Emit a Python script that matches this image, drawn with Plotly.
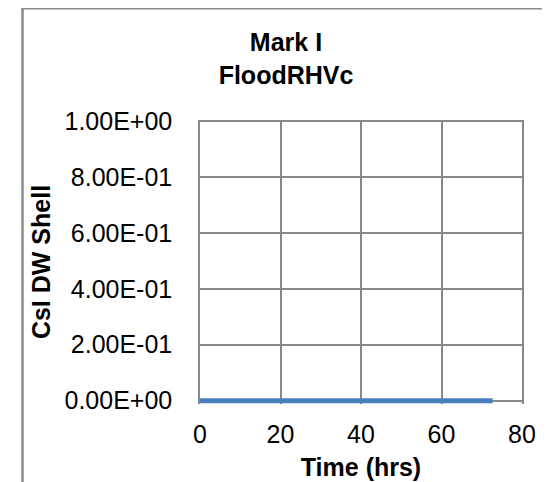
import plotly.graph_objects as go

# ---- data ----
time_hrs = [0, 12, 24, 36, 48, 60, 72.7]
csi_dw_shell = [0, 0, 0, 0, 0, 0, 0]
x_ticks = [0, 20, 40, 60, 80]
y_ticks = [0.0, 0.2, 0.4, 0.6, 0.8, 1.0]
y_ticktext = [f"{v:.2E}" for v in y_ticks]

title_lines = ["Mark I", "FloodRHVc"]
x_title = "Time (hrs)"
y_title = "CsI DW Shell"

FONT = "Liberation Sans, Arial, sans-serif"
GRID = "#898989"

# page body adds an 8px margin, so the figure is 8px smaller each way
W, H = 542, 474
ML, MR, MT, MB = 192, 28, 112, 78

fig = go.Figure()
fig.add_trace(go.Scatter(
    x=time_hrs, y=csi_dw_shell, mode="lines",
    line=dict(color="#4a7ebb", width=5),
    showlegend=False, hoverinfo="skip",
))

plot_w = W - ML - MR
plot_h = H - MT - MB

fig.update_layout(
    width=W, height=H,
    margin=dict(l=ML, r=MR, t=MT, b=MB, autoexpand=False),
    paper_bgcolor="white", plot_bgcolor="white",
    font=dict(family=FONT, color="black", size=25),
    title=dict(
        text="<b>" + "<br>".join(title_lines) + "</b>",
        x=278 / W, xanchor="center", xref="container",
        y=1 - 43 / H, yanchor="top", yref="container",
        font=dict(family=FONT, size=25, color="black"),
    ),
    xaxis=dict(
        range=[0, 80], tickvals=x_ticks,
        showgrid=True, gridcolor=GRID, gridwidth=1.5,
        zeroline=False, showline=False,
        ticks="", ticklabelstandoff=13,
        tickfont=dict(size=25),
        title=dict(text="<b>" + x_title + "</b>", standoff=11,
                   font=dict(size=25)),
    ),
    yaxis=dict(
        range=[-0.012, 1.004], tickvals=y_ticks, ticktext=y_ticktext,
        showgrid=True, gridcolor=GRID, gridwidth=1.5,
        zeroline=False, showline=True, mirror=True,
        linecolor=GRID, linewidth=1.5,
        ticks="", ticklabelstandoff=21,
        tickfont=dict(size=25),
        title=dict(text="<b>" + y_title + "</b>", standoff=6.5,
                   font=dict(size=25)),
    ),
    shapes=[dict(
        type="rect", xref="paper", yref="paper",
        x0=(14.5 - ML) / plot_w, x1=(W + 50 - ML) / plot_w,
        y0=-(MB + 50) / plot_h, y1=(H - MB - 0.3) / plot_h,
        line=dict(color="#8c8c8c", width=2.5), fillcolor="rgba(0,0,0,0)",
        layer="below",
    )],
)

fig.write_html("out.html")
